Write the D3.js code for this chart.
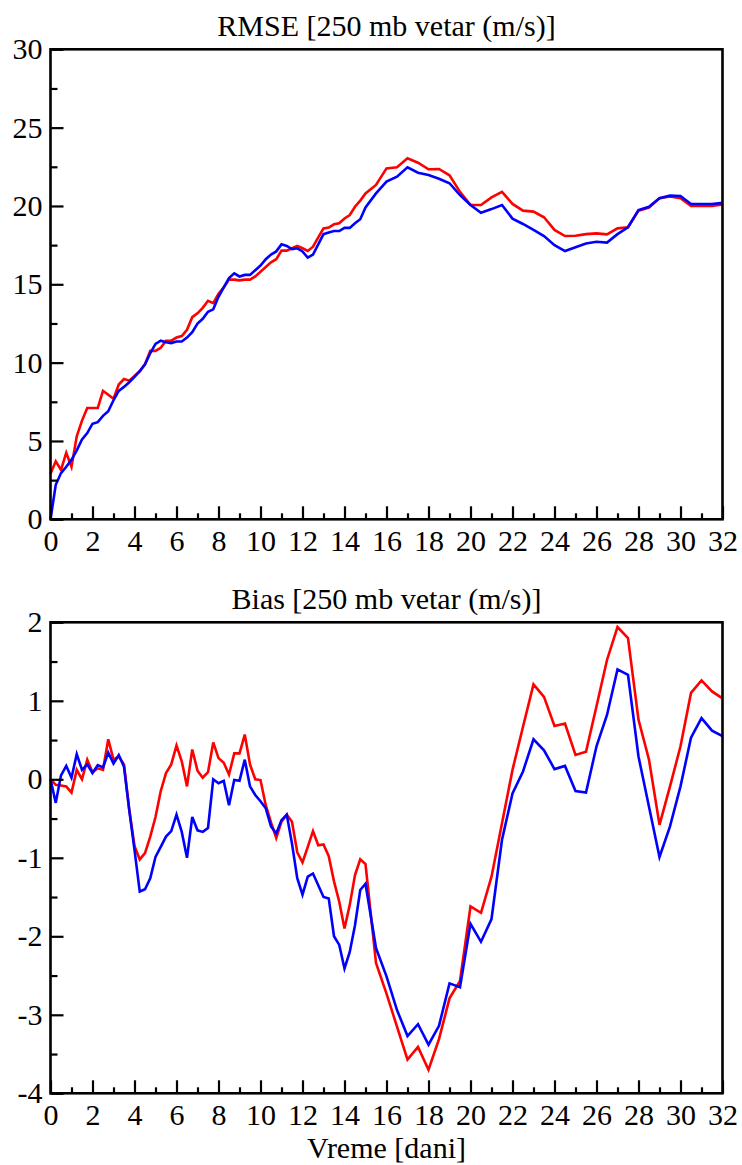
<!DOCTYPE html>
<html>
<head>
<meta charset="utf-8">
<title>RMSE i Bias - 250 mb vetar</title>
<script src="https://d3js.org/d3.v7.min.js"></script>
<style>
  body { margin: 0; background: #fff; }
  text { font-family: "Liberation Serif", "Times New Roman", serif; }
</style>
</head>
<body>
<div id="chart"></div>
<script>

// vreme u danima: do 15. dana korak 0.25, posle 0.5
let days = d3.range(0, 15.001, 0.25).concat(d3.range(15.5, 32.001, 0.5));

let rmseRed = [
  2.9, 3.7, 3.15, 4.25, 3.35, 5.3, 6.3, 7.1, 7.1, 7.1, 8.2, 7.95, 7.7, 8.6, 8.95, 8.85,
  9.15, 9.45, 9.9, 10.75, 10.75, 10.95, 11.4, 11.4, 11.6, 11.7, 12.1, 12.9, 13.15, 13.5, 13.95, 13.8,
  14.4, 14.8, 15.3, 15.3, 15.25, 15.3, 15.3, 15.5, 15.8, 16.1, 16.4, 16.6, 17.15, 17.15, 17.3, 17.45,
  17.3, 17.13, 17.4, 18.0, 18.57, 18.62, 18.83, 18.9, 19.2, 19.42, 19.95, 20.34, 20.8,
  21.34, 22.4, 22.47, 23.04, 22.76, 22.34, 22.36, 21.96, 20.9, 20.06, 20.06, 20.55, 20.9, 20.13, 19.7, 19.64,
  19.28, 18.47, 18.08, 18.1, 18.2, 18.25, 18.19, 18.57, 18.64, 19.7, 19.9, 20.5, 20.6, 20.5, 20.0, 20.0,
  20.0, 20.1
];

let rmseBlue = [
  0, 2.2, 2.95, 3.35, 3.8, 4.4, 5.1, 5.5, 6.1, 6.2, 6.6, 6.9, 7.6, 8.2, 8.45, 8.75,
  9.1, 9.45, 9.9, 10.6, 11.2, 11.4, 11.3, 11.25, 11.35, 11.35, 11.6, 11.95, 12.5, 12.8, 13.25, 13.4,
  14.2, 14.8, 15.4, 15.7, 15.5, 15.6, 15.6, 15.9, 16.2, 16.6, 16.9, 17.1, 17.55, 17.45, 17.25, 17.3,
  17.1, 16.7, 16.9, 17.55, 18.2, 18.3, 18.4, 18.4, 18.6, 18.6, 18.9, 19.15, 19.9,
  20.8, 21.55, 21.87, 22.47, 22.12, 21.98, 21.74, 21.45, 20.7, 20.06, 19.57, 19.8, 20.06, 19.19, 18.85, 18.47,
  18.08, 17.5, 17.12, 17.36, 17.6, 17.72, 17.66, 18.2, 18.64, 19.74, 19.95, 20.5, 20.66, 20.64, 20.13, 20.13,
  20.13, 20.2
];

let biasRed = [
  0, -0.07, -0.08, -0.09, -0.17, 0.12, 0.0, 0.25, 0.09, 0.14, 0.12, 0.51, 0.25, 0.29, 0.19, -0.39,
  -0.85, -1.02, -0.94, -0.73, -0.48, -0.15, 0.08, 0.19, 0.43, 0.23, -0.09, 0.38, 0.11, 0.02, 0.09, 0.47,
  0.27, 0.21, 0.06, 0.33, 0.33, 0.57, 0.19, 0.0, -0.01, -0.33, -0.55, -0.75, -0.54, -0.45, -0.54, -0.93,
  -1.06, -0.86, -0.66, -0.84, -0.83, -0.98, -1.3, -1.56, -1.9, -1.6, -1.22, -1.02, -1.08,
  -2.34, -2.73, -3.15, -3.57, -3.41, -3.7, -3.31, -2.79, -2.57, -1.62, -1.7, -1.24, -0.56, 0.12, 0.67, 1.21,
  1.05, 0.68, 0.71, 0.31, 0.35, 0.93, 1.52, 1.94, 1.8, 0.76, 0.25, -0.58, -0.09, 0.42, 1.1, 1.26,
  1.12, 1.03
];

let biasBlue = [
  0, -0.3, 0.05, 0.17, 0.02, 0.32, 0.12, 0.19, 0.08, 0.18, 0.15, 0.34, 0.2, 0.31, 0.16, -0.39,
  -0.9, -1.43, -1.4, -1.26, -0.99, -0.86, -0.73, -0.66, -0.45, -0.67, -1.0, -0.48, -0.65, -0.67, -0.62, 0.0,
  -0.05, -0.02, -0.33, -0.01, -0.02, 0.25, -0.09, -0.2, -0.28, -0.37, -0.6, -0.69, -0.52, -0.45, -0.82, -1.26,
  -1.47, -1.24, -1.2, -1.35, -1.5, -1.52, -2.0, -2.11, -2.41, -2.2, -1.86, -1.41, -1.33,
  -2.15, -2.51, -2.94, -3.27, -3.12, -3.38, -3.14, -2.6, -2.65, -1.84, -2.07, -1.78, -0.77, -0.18, 0.1, 0.51,
  0.37, 0.13, 0.17, -0.15, -0.17, 0.42, 0.82, 1.4, 1.33, 0.29, -0.35, -0.99, -0.6, -0.09, 0.53, 0.78,
  0.62, 0.55
];

let xMajor = [0, 2, 4, 6, 8, 10, 12, 14, 16, 18, 20, 22, 24, 26, 28, 30, 32];
let xMinor = [1, 3, 5, 7, 9, 11, 13, 15, 17, 19, 21, 23, 25, 27, 29, 31];
let rmseMajor = [0, 5, 10, 15, 20, 25, 30];
let rmseMinor = [2.5, 7.5, 12.5, 17.5, 22.5, 27.5];
let biasMajor = [-4, -3, -2, -1, 0, 1, 2];
let biasMinor = [-3.5, -2.5, -1.5, -0.5, 0.5, 1.5];

let W = 742, H = 1165;
let left = 50.5, right = 722.5;

let svg = d3.select("#chart")
    .append("svg")
    .attr("width", W)
    .attr("height", H);

let x = d3.scaleLinear().domain([0, 32]).range([left, right]);

function styleAxis(g) {
    g.select(".domain").remove();
    g.selectAll(".tick line").attr("stroke", "#000").attr("stroke-width", 2.2);
    g.selectAll(".tick text")
        .attr("fill", "#000")
        .attr("font-size", "30px")
        .attr("font-family", "'Liberation Serif', 'Times New Roman', serif");
}

function render_panel(top, bottom, domain, yMajor, yMinor, red, blue, title) {
    let g = svg.append("g");
    let y = d3.scaleLinear().domain(domain).range([bottom, top]);

    let line = d3.line()
        .x(function(d, i) { return x(days[i]); })
        .y(function(d) { return y(d); });

    g.append("path")
        .datum(red)
        .attr("d", line)
        .attr("fill", "none")
        .attr("stroke", "#ff0000")
        .attr("stroke-width", 2.6);

    g.append("path")
        .datum(blue)
        .attr("d", line)
        .attr("fill", "none")
        .attr("stroke", "#0000ff")
        .attr("stroke-width", 2.6);

    // kratki i dugi podeoci, okrenuti ka unutra
    g.append("g")
        .attr("transform", "translate(0," + bottom + ")")
        .call(d3.axisBottom(x).tickValues(xMinor).tickSize(-6).tickFormat(""))
        .call(styleAxis);
    g.append("g")
        .attr("transform", "translate(0," + bottom + ")")
        .call(d3.axisBottom(x).tickValues(xMajor).tickSize(-13).tickPadding(10)
              .tickFormat(function(d) { return String(d); }))
        .call(styleAxis);

    g.append("g")
        .attr("transform", "translate(" + left + ",0)")
        .call(d3.axisLeft(y).tickValues(yMinor).tickSize(-7).tickFormat(""))
        .call(styleAxis);
    g.append("g")
        .attr("transform", "translate(" + left + ",0)")
        .call(d3.axisLeft(y).tickValues(yMajor).tickSize(-13).tickPadding(8)
              .tickFormat(function(d) { return String(d); }))
        .call(styleAxis);

    g.append("rect")
        .attr("x", left)
        .attr("y", top)
        .attr("width", right - left)
        .attr("height", bottom - top)
        .attr("fill", "none")
        .attr("stroke", "#000")
        .attr("stroke-width", 2.6);

    g.append("text")
        .attr("x", (left + right) / 2)
        .attr("y", top - 13)
        .attr("text-anchor", "middle")
        .attr("font-size", "30px")
        .text(title);
}

render_panel(49.3, 519.3, [0, 30], rmseMajor, rmseMinor, rmseRed, rmseBlue,
    "RMSE [250 mb vetar (m/s)]");
render_panel(622.3, 1093.3, [-4, 2], biasMajor, biasMinor, biasRed, biasBlue,
    "Bias [250 mb vetar (m/s)]");

svg.append("text")
    .attr("x", (left + right) / 2)
    .attr("y", 1158)
    .attr("text-anchor", "middle")
    .attr("font-size", "30px")
    .text("Vreme [dani]");

</script>
</body>
</html>
